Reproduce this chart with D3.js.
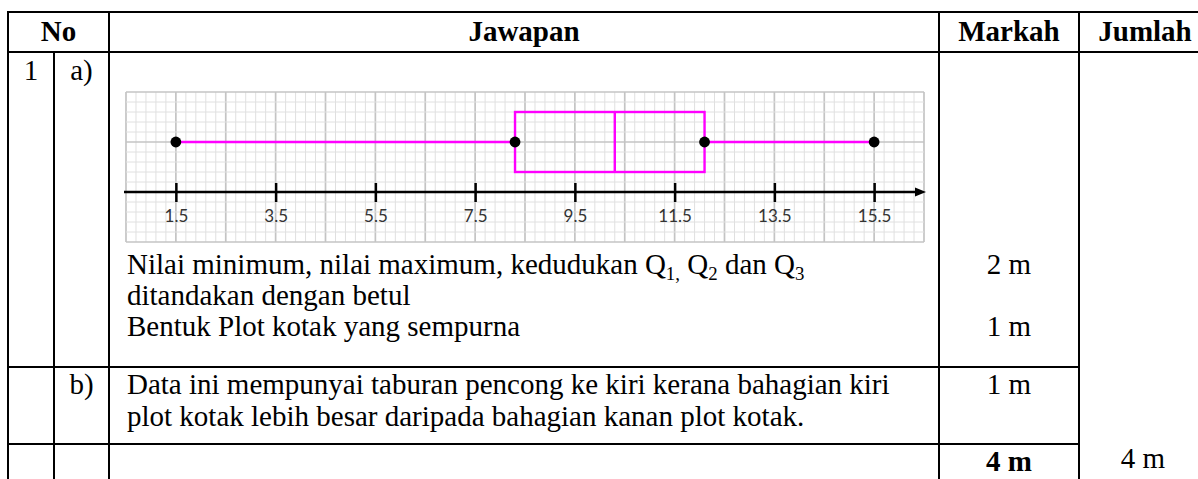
<!DOCTYPE html>
<html><head><meta charset="utf-8">
<script src="https://cdn.jsdelivr.net/npm/d3@7"></script>
<style>html,body{margin:0;padding:0;background:#fff;overflow:hidden}</style>
</head><body>
<svg id="c" width="1198" height="479"></svg>
<script>
// ---- data ----
const headers = ["No", "Jawapan", "Markah", "Jumlah"];
const tickValues = [1.5, 3.5, 5.5, 7.5, 9.5, 11.5, 13.5, 15.5];
const tickLabels = ["1.5", "3.5", "5.5", "7.5", "9.5", "11.5", "13.5", "15.5"];
const statNames = ["Minimum", "Q1", "Q2", "Q3", "Maksimum"];
const statValues = [1.5, 8.3, 10.3, 12.1, 15.5];
const gridDomain = [0.5, 16.5];
const partLabels = ["a)", "b)"];
const answerA = ["ditandakan dengan betul", "Bentuk Plot kotak yang sempurna"];
const answerB = ["Data ini mempunyai taburan pencong ke kiri kerana bahagian kiri",
                 "plot kotak lebih besar daripada bahagian kanan plot kotak."];
const marksA = ["2 m", "1 m"];
const marksB = ["1 m"];
const totalMark = "4 m";

// ---- layout ----
const svg = d3.select("#c");
svg.append("rect").attr("width", 1198).attr("height", 479).attr("fill", "#fff");
const serif = "'Liberation Serif','Times New Roman',serif";
const FS = 29;

const colX = [8, 54, 109, 939, 1079, 1211];
const rowY = [12, 52, 367, 444, 520];

// chart scales
const x = d3.scaleLinear().domain(gridDomain).range([126, 924]);
const gy = d3.scaleLinear().domain([0, 15]).range([92, 242]);

const chart = svg.append("g");
// grid
const vIdx = d3.range(0, 81);
chart.selectAll("line.gv").data(vIdx).join("line")
  .attr("x1", i => x(gridDomain[0] + i * 0.2)).attr("x2", i => x(gridDomain[0] + i * 0.2))
  .attr("y1", gy(0)).attr("y2", gy(15))
  .attr("stroke", i => i % 5 === 0 ? "#c4c4c4" : "#e0e0e0")
  .attr("stroke-width", i => i % 5 === 0 ? 1.7 : 1);
const hIdx = d3.range(0, 16);
chart.selectAll("line.gh").data(hIdx).join("line")
  .attr("x1", x(gridDomain[0])).attr("x2", x(gridDomain[1]))
  .attr("y1", i => gy(i)).attr("y2", i => gy(i))
  .attr("stroke", i => i % 5 === 0 ? "#c4c4c4" : "#e0e0e0")
  .attr("stroke-width", i => i % 5 === 0 ? 1.7 : 1);

// axis
const axisY = gy(10);
const axis = d3.axisBottom(x).tickValues(tickValues).tickFormat((d, i) => tickLabels[i]).tickSizeOuter(0);
const ag = chart.append("g").attr("transform", `translate(0,${axisY})`).call(axis);
ag.select(".domain").remove();
ag.selectAll(".tick line").attr("y1", -9).attr("y2", 10).attr("stroke", "#000").attr("stroke-width", 2.5);
ag.selectAll(".tick text").attr("y", 30).attr("dy", 0)
  .attr("font-family", "Lato,'Liberation Sans',sans-serif").attr("font-size", 17).attr("fill", "#333");
chart.append("line").attr("x1", x(gridDomain[0]) - 2).attr("x2", x(gridDomain[1]) - 6)
  .attr("y1", axisY).attr("y2", axisY).attr("stroke", "#000").attr("stroke-width", 2.5);
chart.append("path")
  .attr("d", `M${x(gridDomain[1]) + 2},${axisY} L${x(gridDomain[1]) - 9},${axisY - 4.5} L${x(gridDomain[1]) - 9},${axisY + 4.5} Z`)
  .attr("fill", "#000");

// box plot
const [vmin, q1, q2, q3, vmax] = statValues;
const wy = gy(5);
const pink = "#ff00ff";
chart.append("line").attr("x1", x(vmin)).attr("x2", x(q1)).attr("y1", wy).attr("y2", wy)
  .attr("stroke", pink).attr("stroke-width", 2.4);
chart.append("line").attr("x1", x(q3)).attr("x2", x(vmax)).attr("y1", wy).attr("y2", wy)
  .attr("stroke", pink).attr("stroke-width", 2.4);
chart.append("rect").attr("x", x(q1)).attr("y", gy(2)).attr("width", x(q3) - x(q1)).attr("height", gy(8) - gy(2))
  .attr("fill", "none").attr("stroke", pink).attr("stroke-width", 2.4);
chart.append("line").attr("x1", x(q2)).attr("x2", x(q2)).attr("y1", gy(2)).attr("y2", gy(8))
  .attr("stroke", pink).attr("stroke-width", 2.4);
chart.selectAll("circle.pt").data([vmin, q1, q3, vmax]).join("circle")
  .attr("cx", d => x(d)).attr("cy", wy).attr("r", 5.4).attr("fill", "#000");

// ---- table lines ----
const tl = svg.append("g").attr("stroke", "#000").attr("stroke-width", 2);
tl.append("line").attr("x1", colX[0] - 1).attr("x2", colX[5]).attr("y1", rowY[0]).attr("y2", rowY[0]);
tl.append("line").attr("x1", colX[0] - 1).attr("x2", colX[5]).attr("y1", rowY[1]).attr("y2", rowY[1]);
tl.append("line").attr("x1", colX[0] - 1).attr("x2", colX[4]).attr("y1", rowY[2]).attr("y2", rowY[2]);
tl.append("line").attr("x1", colX[0] - 1).attr("x2", colX[4]).attr("y1", rowY[3]).attr("y2", rowY[3]);
[0, 2, 3, 4, 5].forEach(i => tl.append("line").attr("x1", colX[i]).attr("x2", colX[i]).attr("y1", rowY[0] - 1).attr("y2", rowY[4]));
tl.append("line").attr("x1", colX[1]).attr("x2", colX[1]).attr("y1", rowY[1]).attr("y2", rowY[4]);

// ---- texts ----
const T = svg.append("g").attr("font-family", serif).attr("font-size", FS).attr("fill", "#000");
const hx = [(colX[0] + colX[2]) / 2, (colX[2] + colX[3]) / 2, (colX[3] + colX[4]) / 2, 1145];
T.selectAll("text.h").data(headers).join("text").attr("x", (d, i) => hx[i]).attr("y", 41)
  .attr("text-anchor", "middle").attr("font-weight", "bold").text(d => d);

T.append("text").attr("x", (colX[0] + colX[1]) / 2).attr("y", 80).attr("text-anchor", "middle").text("1");
T.append("text").attr("x", (colX[1] + colX[2]) / 2).attr("y", 80).attr("text-anchor", "middle").text(partLabels[0]);
T.append("text").attr("x", (colX[1] + colX[2]) / 2).attr("y", 394).attr("text-anchor", "middle").text(partLabels[1]);

const tx = 127;
const yA = [274, 305, 336];
const yB = [394, 426];
const l1 = T.append("text").attr("x", tx).attr("y", yA[0]);
l1.append("tspan").text("Nilai minimum, nilai maximum, kedudukan Q");
l1.append("tspan").attr("font-size", FS * 0.65).attr("dy", 6).text("1,");
l1.append("tspan").attr("dy", -6).text(" Q");
l1.append("tspan").attr("font-size", FS * 0.65).attr("dy", 6).text("2");
l1.append("tspan").attr("dy", -6).text(" dan Q");
l1.append("tspan").attr("font-size", FS * 0.65).attr("dy", 6).text("3");
T.append("text").attr("x", tx).attr("y", yA[1]).text(answerA[0]);
T.append("text").attr("x", tx).attr("y", yA[2]).text(answerA[1]);
T.append("text").attr("x", tx).attr("y", yB[0]).text(answerB[0]);
T.append("text").attr("x", tx).attr("y", yB[1]).text(answerB[1]);

const mx = (colX[3] + colX[4]) / 2;
T.append("text").attr("x", mx).attr("y", yA[0]).attr("text-anchor", "middle").text(marksA[0]);
T.append("text").attr("x", mx).attr("y", yA[2]).attr("text-anchor", "middle").text(marksA[1]);
T.append("text").attr("x", mx).attr("y", yB[0]).attr("text-anchor", "middle").text(marksB[0]);
T.append("text").attr("x", mx).attr("y", 471).attr("text-anchor", "middle").attr("font-weight", "bold").text(totalMark);
T.append("text").attr("x", 1143).attr("y", 468).attr("text-anchor", "middle").text(totalMark);
</script>
</body></html>
